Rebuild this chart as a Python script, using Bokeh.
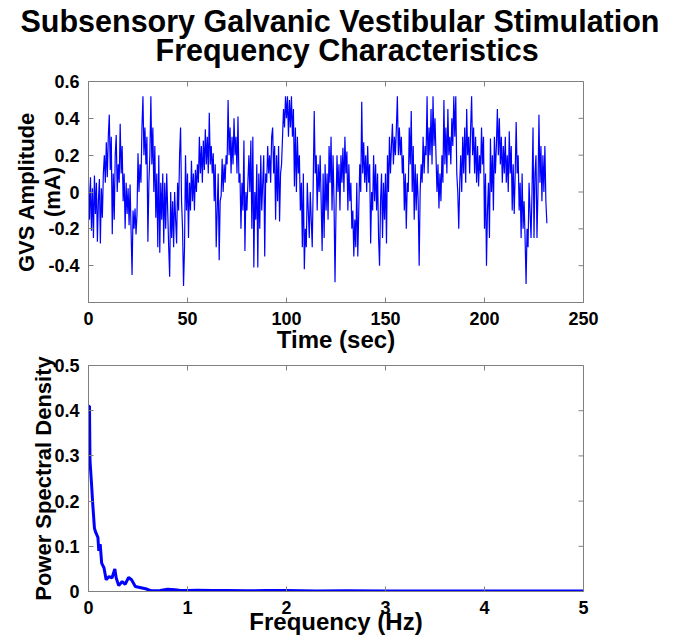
from bokeh.plotting import figure
from bokeh.models import FixedTicker, Range1d, CustomJSTickFormatter, Title
from bokeh.layouts import column
from bokeh.embed import file_html
from bokeh.resources import INLINE
import numpy as np

TITLE_LINE1 = "Subsensory Galvanic Vestibular Stimulation"
TITLE_LINE2 = "Frequency Characteristics"

gvs_dt = 0.5
gvs_amp = [
    0.05, -0.15, 0.08, -0.21, 0.02, -0.25, 0.09, -0.12, 0.05, -0.27,
    -0.05, 0.07, -0.28, 0.02, -0.14, 0.1, 0.2, 0.05, 0.27, 0.08,
    0.3, 0.42, 0.12, 0.3, -0.23, 0.1, -0.15, 0.2, 0.31, 0.0,
    0.15, 0.05, 0.37, 0.1, 0.25, -0.05, 0.1, -0.2, 0.05, -0.12,
    0.02, -0.18, 0.04, -0.21, -0.45, -0.1, -0.2, -0.09, -0.23, -0.12,
    0.21, 0.0, 0.15, 0.05, 0.35, 0.52, 0.2, 0.35, 0.15, 0.3,
    -0.27, 0.05, 0.2, 0.52, 0.15, 0.35, 0.0, 0.25, -0.14, 0.1,
    -0.3, 0.2, -0.33, 0.05, -0.15, 0.1, -0.28, 0.05, -0.2, 0.1,
    -0.1, -0.3, -0.46, 0.0, -0.25, -0.05, -0.3, 0.0, -0.15, -0.28,
    0.05, -0.1, 0.2, 0.35, -0.05, -0.2, -0.51, -0.3, 0.2, -0.1,
    0.1, -0.25, 0.05, -0.1, 0.17, -0.05, 0.1, -0.1, 0.12, 0.0,
    0.15, 0.05, 0.3, 0.1, 0.25, 0.05, 0.28, 0.12, 0.34, 0.15,
    0.3, 0.1, 0.43, 0.15, 0.25, 0.1, 0.21, -0.05, 0.15, -0.3,
    -0.1, 0.1, -0.37, -0.05, -0.02, 0.18, 0.0, 0.15, 0.05, 0.2,
    0.15, 0.5, 0.2, 0.35, 0.1, 0.3, 0.15, 0.4, 0.2, 0.3,
    0.1, 0.41, 0.05, 0.1, -0.2, 0.05, -0.1, 0.28, -0.32, 0.0,
    -0.1, 0.05, 0.2, 0.0, 0.28, -0.2, 0.3, -0.41, 0.0, -0.15,
    0.15, -0.41, 0.1, -0.2, 0.2, -0.1, 0.05, 0.2, -0.35, 0.1,
    0.05, 0.25, 0.1, 0.2, 0.05, 0.3, 0.35, 0.1, 0.25, -0.15,
    0.2, -0.05, 0.25, -0.16, 0.1, 0.15, 0.3, 0.45, 0.35, 0.52,
    0.4, 0.52, 0.3, 0.5, 0.35, 0.52, 0.3, 0.45, 0.03, 0.35,
    0.0, 0.3, 0.1, 0.2, -0.1, 0.05, -0.3, 0.1, -0.42, -0.2,
    -0.3, 0.05, -0.1, -0.25, 0.0, -0.15, -0.3, 0.05, 0.44, 0.1,
    0.2, -0.1, 0.15, 0.0, 0.2, -0.05, -0.32, 0.1, -0.25, 0.15,
    -0.1, 0.1, -0.15, 0.25, 0.05, 0.3, -0.1, 0.2, -0.05, -0.49,
    -0.1, 0.2, 0.0, 0.15, -0.1, 0.2, 0.05, 0.24, 0.0, 0.3,
    0.1, 0.22, -0.1, 0.15, -0.05, 0.05, -0.2, -0.1, -0.35, -0.15,
    -0.3, 0.05, -0.35, -0.1, 0.15, 0.0, 0.49, 0.1, 0.27, 0.05,
    0.2, 0.0, 0.25, 0.05, 0.15, -0.28, 0.0, -0.1, 0.2, -0.05,
    0.15, -0.1, 0.1, -0.25, -0.4, -0.05, 0.1, -0.25, 0.05, -0.15,
    0.1, -0.28, 0.2, 0.0, 0.3, 0.1, 0.25, 0.37, 0.15, 0.3,
    0.2, 0.35, 0.52, 0.2, 0.35, 0.2, 0.3, 0.1, 0.2, -0.1,
    0.1, -0.2, 0.05, 0.0, 0.35, 0.15, 0.44, 0.0, 0.25, -0.15,
    0.15, -0.1, 0.1, -0.05, -0.4, 0.0, 0.15, 0.05, 0.3, 0.1,
    0.25, 0.2, 0.52, 0.1, 0.35, 0.2, 0.45, 0.15, 0.52, 0.25,
    0.4, 0.2, 0.0, 0.15, -0.09, 0.1, -0.05, 0.2, 0.05, 0.5,
    0.15, 0.35, 0.1, 0.45, 0.2, 0.3, 0.15, 0.4, 0.25, 0.52,
    0.3, 0.52, 0.1, 0.0, -0.2, 0.05, 0.2, 0.0, 0.3, 0.1,
    0.35, 0.05, 0.45, 0.2, 0.3, 0.1, 0.35, 0.52, 0.2, 0.35,
    0.1, 0.3, 0.05, 0.25, 0.03, 0.2, 0.1, 0.35, 0.15, 0.3,
    -0.2, 0.1, -0.4, -0.1, 0.05, -0.25, 0.29, 0.0, 0.2, -0.1,
    0.3, 0.1, 0.25, 0.45, 0.2, 0.4, 0.15, 0.3, 0.05, 0.25,
    0.1, 0.3, 0.05, 0.2, 0.0, 0.33, 0.1, 0.25, -0.1, 0.15,
    -0.12, 0.1, 0.38, 0.1, 0.2, -0.1, 0.05, -0.25, 0.1, -0.2,
    -0.05, -0.25, -0.5, -0.2, -0.3, 0.05, -0.1, -0.25, 0.0, 0.35,
    -0.25, 0.1, 0.2, -0.25, 0.0, 0.42, 0.05, 0.25, -0.05, 0.2,
    0.0, 0.25, -0.05, -0.17,
]
gvs_time = list(np.arange(len(gvs_amp)) * gvs_dt)

# Power spectral density
psd_freq = [0.0, 0.01, 0.015, 0.03, 0.044, 0.06, 0.074, 0.095, 0.104, 0.118,
            0.133, 0.157, 0.178, 0.207, 0.237, 0.266, 0.28, 0.305, 0.34, 0.37,
            0.405, 0.435, 0.473, 0.518, 0.577, 0.636, 0.725, 0.8, 0.873, 0.93,
            1.0, 1.1, 1.25, 1.4, 1.6, 1.8, 2.0, 2.3, 2.6, 3.0, 3.4, 3.8, 4.2,
            4.6, 5.0]
psd_val = [0.41, 0.41, 0.29, 0.24, 0.19, 0.14, 0.13, 0.12, 0.09, 0.105,
           0.063, 0.052, 0.026, 0.033, 0.03, 0.05, 0.03, 0.013, 0.022, 0.016,
           0.031, 0.026, 0.011, 0.009, 0.006, 0.0015, 0.002, 0.005, 0.004, 0.002,
           0.002, 0.003, 0.002, 0.002, 0.0015, 0.002, 0.002, 0.0012, 0.0015, 0.001,
           0.0012, 0.001, 0.0012, 0.001, 0.001]

top_xticks = [0, 50, 100, 150, 200, 250]
top_yticks = [-0.4, -0.2, 0, 0.2, 0.4, 0.6]
bot_xticks = [0, 1, 2, 3, 4, 5]
bot_yticks = [0, 0.1, 0.2, 0.3, 0.4, 0.5]

FONT = "Liberation Sans"
AX_COLOR = "#808080"
LINE_COLOR = "#0000ff"
W = 685

fmt_code = """
if (Math.abs(tick) < 1e-9) { return '0'; }
if (Math.abs(tick - Math.round(tick)) < 1e-9) { return tick.toFixed(0); }
return tick.toFixed(1);
"""


def style_axis(ax, ticks, standoff):
    ax.ticker = FixedTicker(ticks=ticks)
    ax.axis_line_color = AX_COLOR
    ax.major_tick_line_color = AX_COLOR
    ax.major_tick_in = 5
    ax.major_tick_out = 0
    ax.minor_tick_line_color = None
    ax.formatter = CustomJSTickFormatter(code=fmt_code)
    ax.major_label_text_font = FONT
    ax.major_label_text_font_style = "bold"
    ax.major_label_text_font_size = "18px"
    ax.major_label_text_color = "black"
    ax.major_label_standoff = standoff
    ax.axis_label_text_font = FONT
    ax.axis_label_text_font_style = "bold"
    ax.axis_label_text_font_size = "22px"
    ax.axis_label_text_color = "black"
    ax.axis_label_text_line_height = 1.05


def make_title(text, size, standoff, align="center", offset=0):
    return Title(text=text, align=align, offset=offset, standoff=standoff,
                 text_font=FONT, text_font_style="bold", text_font_size=size,
                 text_color="black")


def make_fig(height, xr, yr, xt, yt, top_border, bottom_border):
    p = figure(width=W, height=height, x_range=Range1d(*xr), y_range=Range1d(*yr),
               output_backend="svg", toolbar_location=None,
               min_border_left=88, min_border_right=102,
               min_border_top=top_border, min_border_bottom=bottom_border,
               background_fill_color="white", border_fill_color="white")
    p.title.visible = False
    p.grid.visible = False
    p.outline_line_color = AX_COLOR
    style_axis(p.xaxis[0], xt, 9)
    style_axis(p.yaxis[0], yt, 9)
    # mirrored (inward) tick marks on the top and right edges of the box
    p.ray(x=xt, y=[yr[1]] * len(xt), length=5, length_units="screen",
          angle=-np.pi / 2, line_color=AX_COLOR, line_width=1)
    p.ray(x=[xr[1]] * len(yt), y=yt, length=5, length_units="screen",
          angle=np.pi, line_color=AX_COLOR, line_width=1)
    return p


# ---- two-line main title (its own strip above the panels) ----
H0 = 71
p0 = figure(width=W, height=H0, x_range=Range1d(0, 1), y_range=Range1d(0, 1),
            x_axis_type=None, y_axis_type=None, min_border=0,
            output_backend="svg", toolbar_location=None,
            outline_line_color=None, background_fill_color="white",
            border_fill_color="white")
p0.title.visible = False
p0.add_layout(make_title(TITLE_LINE2, "30.5px", -17, "left", 67), "above")
p0.add_layout(make_title(TITLE_LINE1, "30.5px", 3, "left", -68), "above")

# ---- top panel: stimulus time course ----
H1 = 285
p1 = make_fig(H1, (0, 250), (-0.6, 0.6), top_xticks, top_yticks, 10, 54)
p1.yaxis[0].axis_label = "GVS Amplitude\n(mA)"
p1.yaxis[0].axis_label_standoff = -20
p1.add_layout(make_title("Time (sec)", "24px", -8), "below")
p1.line(gvs_time, gvs_amp, line_color=LINE_COLOR, line_width=1.2)

# ---- bottom panel: power spectral density ----
H2 = 640 - H0 - H1
p2 = make_fig(H2, (0, 5), (0, 0.5), bot_xticks, bot_yticks, 9, 49)
p2.yaxis[0].axis_label = "Power Spectral Density"
p2.yaxis[0].axis_label_standoff = -5
p2.add_layout(make_title("Frequency (Hz)", "24px", -22), "below")
p2.line(psd_freq, psd_val, line_color=LINE_COLOR, line_width=3)

layout = column(p0, p1, p2, spacing=0)
open("out.html", "w").write(file_html(layout, INLINE))
